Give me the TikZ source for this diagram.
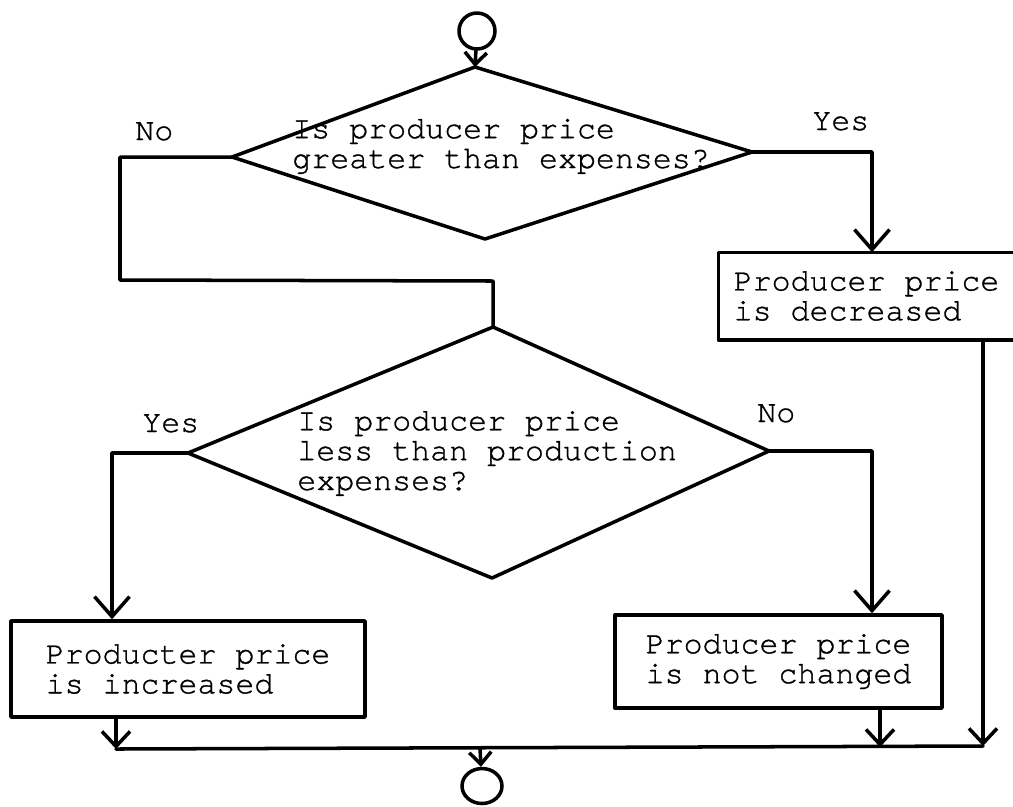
\documentclass[tikz,border=0pt]{standalone}
\usepackage{fontspec}
\setmonofont[FakeBold=1]{TeX Gyre Cursor}
\usetikzlibrary{arrows.meta,shapes.geometric}
\begin{document}
\begin{tikzpicture}[x=0.02cm,y=-0.02cm,
  flow/.style={line width=2pt, line join=round, line cap=round},
  arrL/.style={flow, -{Straight Barb[length=0.4cm,width=0.7cm]}},
  arrM/.style={flow, -{Straight Barb[length=0.3cm,width=0.56cm]}},
  arrS/.style={flow, -{Straight Barb[length=0.24cm,width=0.44cm]}},
  lbl/.style={font=\ttfamily\fontsize{18}{17}\selectfont, inner sep=0pt, anchor=base west},
  txt/.style={lbl, align=left},
  box/.style={flow, font=\ttfamily\fontsize{18}{17}\selectfont, align=left, inner sep=0pt},
  term/.style={draw, flow, ellipse, inner sep=0pt}
]
\useasboundingbox (0,0) rectangle (1013,806);

% terminals
\node[term, minimum width=0.72cm, minimum height=0.72cm] (start) at (477,31) {};
\node[term, minimum width=0.8cm, minimum height=0.7cm] (stop) at (482,786) {};

% first decision
\coordinate (d1n) at (475,67);
\coordinate (d1w) at (232,157);
\coordinate (d1e) at (752,152);
\coordinate (d1s) at (485,239);
\draw[flow] (d1n) -- (d1e) -- (d1s) -- (d1w) -- cycle;
\node[txt] (q1) at (292,168) {Is producer price\\greater than expenses?};

% second decision
\coordinate (d2n) at (493,327);
\coordinate (d2w) at (188,453);
\coordinate (d2e) at (769,451);
\coordinate (d2s) at (492,578);
\draw[flow] (d2n) -- (d2e) -- (d2s) -- (d2w) -- cycle;
\node[txt] (q2) at (297,490) {Is producer price\\less than production\\expenses?};

% process boxes
\node[box, minimum width=5.86cm, minimum height=1.68cm] (b1) at (866.5,296) {Producer price\\is decreased};
\draw[flow] (b1.north east) -- (b1.north west) -- (b1.south west) -- (b1.south east);
\node[box, draw, minimum width=7.08cm, minimum height=1.92cm] (b2) at (188,669) {Producter price\\is increased};
\node[box, draw, minimum width=6.54cm, minimum height=1.86cm] (b3) at (778.5,661.5) {Producer price\\is not changed};

% branch labels
\node[lbl] (l1) at (135,140) {No};
\node[lbl] (l2) at (812,130) {Yes};
\node[lbl] (l3) at (142,432) {Yes};
\node[lbl] (l4) at (757,422) {No};

% connectors
\draw[arrS] (start) -- (d1n);
\coordinate (k1) at (120,157);
\coordinate (k2) at (120,280);
\coordinate (k3) at (493,281);
\draw[flow] (d1w) -- (k1) -- (k2) -- (k3) -- (d2n);
\coordinate (y1) at (872,152);
\draw[arrL] (d1e) -- (y1) -- (y1 |- b1.north);
\coordinate (y2) at (112,453);
\draw[arrL] (d2w) -- (y2) -- (y2 |- b2.north);
\coordinate (y3) at (872,451);
\draw[arrL] (d2e) -- (y3) -- (y3 |- b3.north);

% collecting line
\coordinate (jL) at (116,749);
\coordinate (jM) at (880,747);
\coordinate (jR) at (983,746);
\coordinate (jC) at (480,748);
\draw[arrM] (jL |- b2.south) -- (jL);
\draw[arrM] (jM |- b3.south) -- (jM);
\draw[arrM] (jR |- b1.south) -- (jR);
\draw[flow] (jL) -- (jR);
\draw[arrS] (jC) -- (stop);
\end{tikzpicture}
\end{document}
